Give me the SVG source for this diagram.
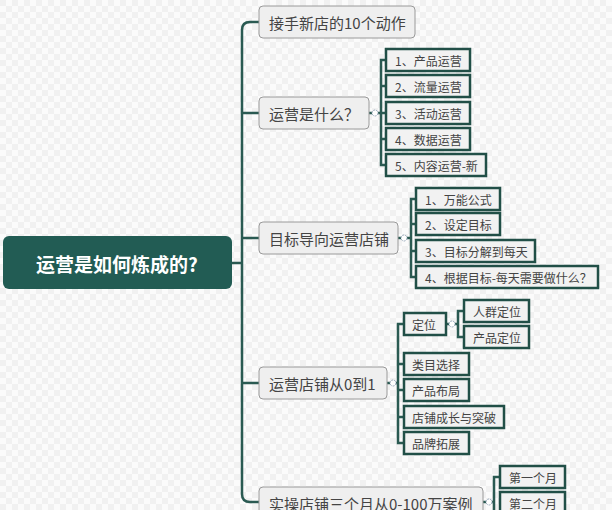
<svg xmlns="http://www.w3.org/2000/svg" width="612" height="510" viewBox="0 0 612 510">
<defs>
<pattern id="bg" width="12" height="12" patternUnits="userSpaceOnUse"><rect width="12" height="12" fill="#fbfbfb"/><rect width="6" height="6" fill="#f1f1f1"/><rect x="6" y="6" width="6" height="6" fill="#f1f1f1"/></pattern>
<style>
.l1 rect{fill:#efefef;stroke:#9a9a9a;stroke-width:1}
.l1 text{font:15px "Noto Sans CJK SC",sans-serif;fill:#444;dominant-baseline:central}
.l2 rect{fill:#f2f2f2;stroke:#214f47;stroke-width:2.5}
.l2 text{font:12px "Noto Sans CJK SC",sans-serif;fill:#444;dominant-baseline:central}
.c path{fill:none;stroke:#2a5a52;stroke-width:2.5}
.c circle{fill:#fff;stroke:#9ab;stroke-width:1;stroke-dasharray:2 1}
</style>
</defs>
<rect width="612" height="510" fill="url(#bg)"/>
<g class="c">
<path d="M232 263H242 M242 263V30Q242 22 250 22H259 M242 113H259 M242 238H259 M242 383H259 M242 263V494Q242 502 250 502H259"/>
<path d="M369 113H381 M386 60H381V165H386 M381 86H386 M381 113H386 M381 139H386"/>
<path d="M398 238H411 M416 199H411V277H416 M411 224H416 M411 251H416"/>
<path d="M387 383H398 M404 324H398V443H404 M398 364H404 M398 390H404 M398 417H404"/>
<path d="M446 324H458 M464 311H458V337H464"/>
<path d="M483 502H494 M500 477H494V510"/>
<circle cx="375" cy="113" r="3"/><circle cx="404" cy="238" r="3"/><circle cx="393" cy="383" r="3"/><circle cx="452" cy="324" r="3"/><circle cx="489" cy="502" r="3"/>
</g>
<g id="root"><rect x="3" y="236" width="229" height="53" rx="6" fill="#225c54"/><text x="117" y="263" text-anchor="middle" dominant-baseline="central" font-family="Noto Sans CJK SC,sans-serif" font-size="19" font-weight="bold" fill="#fff">运营是如何炼成的?</text></g>
<g id="n1" class="l1"><rect x="259" y="6" width="156" height="32" rx="4"/><text x="269" y="22">接手新店的10个动作</text></g>
<g id="n2" class="l1"><rect x="259" y="97" width="110" height="32" rx="4"/><text x="269" y="113">运营是什么？</text></g>
<g id="n3" class="l1"><rect x="259" y="222" width="139" height="32" rx="4"/><text x="269" y="238">目标导向运营店铺</text></g>
<g id="n4" class="l1"><rect x="259" y="367" width="128" height="32" rx="4"/><text x="269" y="383">运营店铺从0到1</text></g>
<g id="n5" class="l1"><rect x="259" y="487" width="224" height="32" rx="4"/><text x="269" y="503">实操店铺三个月从0-100万案例</text></g>
<g id="a1" class="l2"><rect x="386" y="49" width="84" height="22"/><text x="395" y="60">1、产品运营</text></g>
<g id="a2" class="l2"><rect x="386" y="75" width="84" height="22"/><text x="395" y="86">2、流量运营</text></g>
<g id="a3" class="l2"><rect x="386" y="102" width="84" height="22"/><text x="395" y="113">3、活动运营</text></g>
<g id="a4" class="l2"><rect x="386" y="128" width="84" height="22"/><text x="395" y="139">4、数据运营</text></g>
<g id="a5" class="l2"><rect x="386" y="154" width="100" height="22"/><text x="395" y="165">5、内容运营-新</text></g>
<g id="b1" class="l2"><rect x="416" y="188" width="84" height="22"/><text x="425" y="199">1、万能公式</text></g>
<g id="b2" class="l2"><rect x="416" y="213" width="84" height="22"/><text x="425" y="224">2、设定目标</text></g>
<g id="b3" class="l2"><rect x="416" y="240" width="119" height="22"/><text x="425" y="251">3、目标分解到每天</text></g>
<g id="b4" class="l2"><rect x="416" y="266" width="182" height="22"/><text x="425" y="277">4、根据目标-每天需要做什么？</text></g>
<g id="c1" class="l2"><rect x="404" y="313" width="42" height="22"/><text x="412" y="324">定位</text></g>
<g id="c11" class="l2"><rect x="464" y="300" width="65" height="22"/><text x="473" y="311">人群定位</text></g>
<g id="c12" class="l2"><rect x="464" y="326" width="65" height="22"/><text x="473" y="337">产品定位</text></g>
<g id="c2" class="l2"><rect x="404" y="353" width="65" height="22"/><text x="412" y="364">类目选择</text></g>
<g id="c3" class="l2"><rect x="404" y="379" width="65" height="22"/><text x="412" y="390">产品布局</text></g>
<g id="c4" class="l2"><rect x="404" y="406" width="100" height="22"/><text x="412" y="417">店铺成长与突破</text></g>
<g id="c5" class="l2"><rect x="404" y="432" width="65" height="22"/><text x="412" y="443">品牌拓展</text></g>
<g id="d1" class="l2"><rect x="500" y="466" width="65" height="22"/><text x="509" y="477">第一个月</text></g>
<g id="d2" class="l2"><rect x="500" y="492" width="65" height="22"/><text x="509" y="503">第二个月</text></g>
</svg>
